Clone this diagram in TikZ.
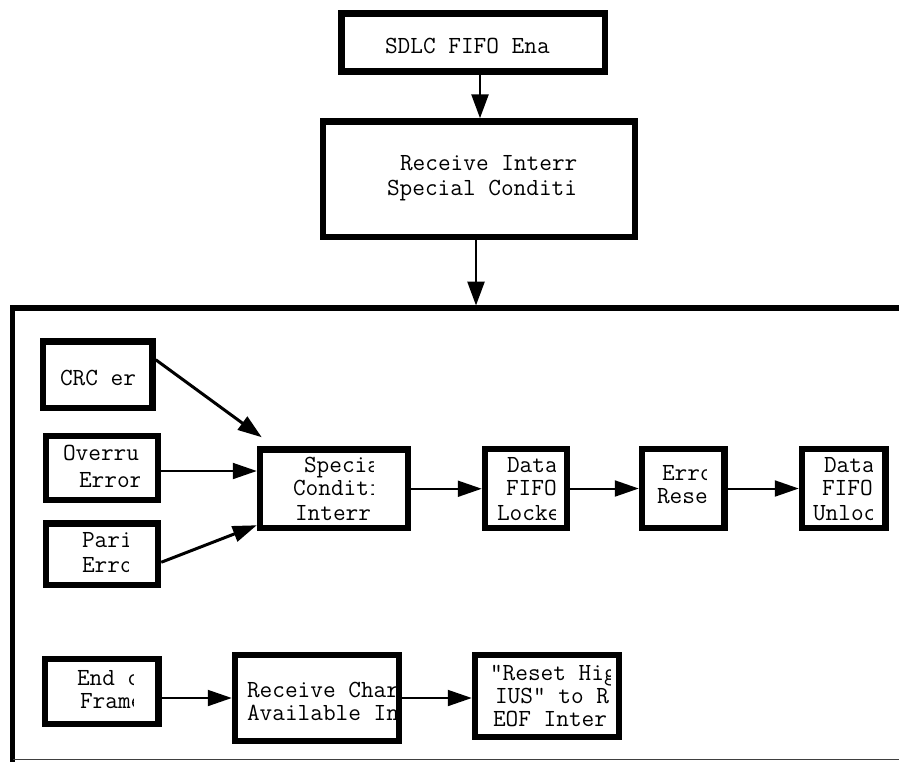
\documentclass[tikz,border=0pt]{standalone}
\usepackage{fontspec}
\usetikzlibrary{arrows.meta}
\tikzset{
  box/.style={draw, line width=6.5pt, inner sep=0pt, fill=white},
  txt/.style={anchor=base west, inner sep=0pt, outer sep=0pt, font=\ttfamily\fontsize{24.6}{27}\selectfont},
  conn/.style={line width=2pt, -{Triangle[length=24pt,width=16pt]}},
  vconn/.style={line width=2.6pt, -{Triangle[length=24pt,width=17pt]}},
  dconn/.style={line width=3pt, -{Triangle[length=24pt,width=16pt]}},
}
\begin{document}
\begin{tikzpicture}[x=1pt,y=-1pt]
\useasboundingbox (0,0) rectangle (899,761);
% outer frame
\node[inner sep=0pt, outer sep=0pt, minimum width=907.5pt, minimum height=451.5pt] (fr) at (466.25,533.75) {};
\draw[line width=5.5pt, line join=miter] (fr.north east) -- (fr.north west) -- ([yshift=-3pt]fr.south west);
\draw[line width=1.5pt, black!75] (fr.south west) -- (fr.south east);

% boxes
\node[box, minimum width=263.5pt, minimum height=58pt] (top) at (473.25,42.5) {};
\node[box, minimum width=312pt, minimum height=115.5pt] (rim) at (479,179.25) {};
\node[box, minimum width=109.5pt, minimum height=66.5pt] (crc) at (97.75,374.75) {};
\node[box, minimum width=112pt, minimum height=64pt] (ovr) at (102,468) {};
\node[box, minimum width=112pt, minimum height=61.5pt] (par) at (102,554.25) {};
\node[box, minimum width=148pt, minimum height=78.5pt] (spc) at (334,488.75) {};
\node[box, minimum width=82pt, minimum height=79pt] (lck) at (526,488.5) {};
\node[box, minimum width=82.5pt, minimum height=79pt] (err) at (683.25,488.5) {};
\node[box, minimum width=83.5pt, minimum height=79pt] (unl) at (843.75,488.5) {};
\node[box, minimum width=113.5pt, minimum height=65pt] (eof) at (101.75,691.5) {};
\node[box, minimum width=164pt, minimum height=86pt] (rcv) at (317,698) {};
\node[box, minimum width=144pt, minimum height=82pt] (rst) at (547,696) {};

% connectors
\coordinate (xa) at (480,0);
\coordinate (xb) at (476,0);
\draw[vconn] (xa |- top.south) -- (xa |- rim.north);
\draw[vconn, shorten >=2.5pt] (xb |- rim.south) -- (xb |- fr.north);
\draw[dconn] ([yshift=15pt]crc.east) -- ([xshift=5pt,yshift=9pt]spc.north west);
\coordinate (o1) at ([yshift=-3pt]ovr.east);
\draw[conn] (o1) -- (o1 -| spc.west);
\draw[dconn] ([yshift=-8pt]par.east) -- ([yshift=6pt]spc.south west);
\draw[conn] (spc.east) -- (spc.east -| lck.west);
\draw[conn] (lck.east) -- (lck.east -| err.west);
\draw[conn] (err.east) -- (err.east -| unl.west);
\draw[conn] (eof.east |- rcv.west) -- (rcv.west);
\draw[conn] (rcv.east) -- (rcv.east -| rst.west);

% texts (clipped as in the original)
\node[txt] (t1) at (385,53) {SDLC FIFO Ena};
\begin{scope}
\clip (327,125) rectangle (578,234);
\node[txt] (t2a) at (400,170) {Receive Interr};
\node[txt] (t2b) at (387,195) {Special Conditi};
\end{scope}
\node[txt] (t3) at (60,385) {CRC er};
\begin{scope}
\clip (49,439) rectangle (139,497);
\node[txt] (t4a) at (63,460) {Overru};
\node[txt] (t4b) at (79,487) {Error};
\end{scope}
\begin{scope}
\clip (49,527) rectangle (128,582);
\node[txt] (t5a) at (82,547) {Pari};
\node[txt] (t5b) at (82,572) {Erro};
\end{scope}
\begin{scope}
\clip (263,453) rectangle (373,525);
\node[txt] (t6a) at (304,472) {Specia};
\node[txt] (t6b) at (293,495) {Conditi};
\node[txt] (t6c) at (295,520) {Interr};
\end{scope}
\begin{scope}
\clip (488,452) rectangle (555,525);
\node[txt] (t7a) at (507,472) {Data};
\node[txt] (t7b) at (506,495) {FIFO};
\node[txt] (t7c) at (497,520) {Locke};
\end{scope}
\begin{scope}
\clip (645,452) rectangle (706,525);
\node[txt] (t8a) at (662,480) {Erro};
\node[txt] (t8b) at (657,503) {Rese};
\end{scope}
\begin{scope}
\clip (805,452) rectangle (872,525);
\node[txt] (t9a) at (824,472) {Data};
\node[txt] (t9b) at (822,495) {FIFO};
\node[txt] (t9c) at (813,520) {Unloc};
\end{scope}
\begin{scope}
\clip (48,662) rectangle (133,721);
\node[txt] (t10a) at (77,685) {End o};
\node[txt] (t10b) at (80,708) {Frame};
\end{scope}
\begin{scope}
\clip (238,658) rectangle (407,738);
\node[txt] (t11a) at (247,697) {Receive Char};
\node[txt] (t11b) at (247,720) {Available In};
\end{scope}
\begin{scope}
\clip (478,658) rectangle (610,734);
\node[txt] (t12a) at (490,680) {"Reset Hig};
\node[txt] (t12b) at (495,703) {IUS" to R};
\node[txt] (t12c) at (493,726) {EOF Inter};
\end{scope}
\end{tikzpicture}
\end{document}
